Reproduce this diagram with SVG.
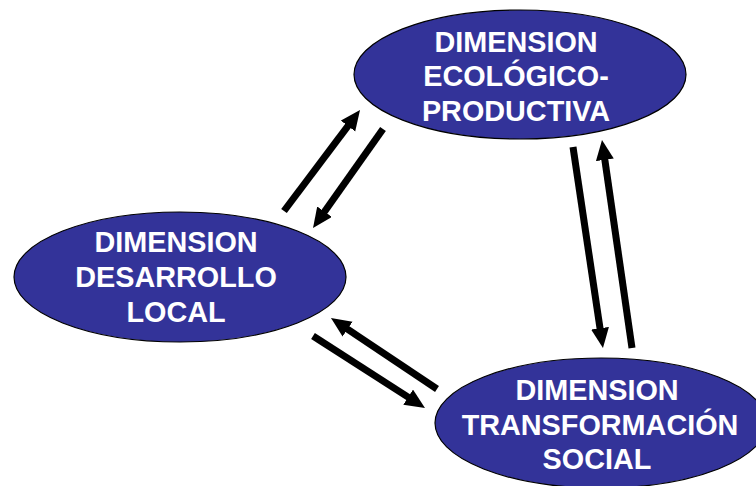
<svg xmlns="http://www.w3.org/2000/svg" width="756" height="486" viewBox="0 0 756 486">
<style>
.node ellipse{fill:#333399;stroke:#000;stroke-width:1.2}
.node text{fill:#fff;font-family:"Liberation Sans",Arial,sans-serif;font-weight:bold;font-size:28.8px;text-anchor:middle}
.conn line{stroke:#000;stroke-width:7;marker-end:url(#ah)}
</style>
<defs>
<marker id="ah" markerUnits="userSpaceOnUse" markerWidth="22" markerHeight="20" refX="6" refY="9" orient="auto">
<path d="M0,0 L20,9 L0,18 z" fill="#000"/>
</marker>
</defs>
<rect width="756" height="486" fill="#fff"/>
<g id="n-eco" class="node">
<ellipse cx="520" cy="74.5" rx="166" ry="64.5"/>
<text x="516" y="52">DIMENSION</text>
<text x="516" y="86">ECOLÓGICO-</text>
<text x="516" y="121">PRODUCTIVA</text>
</g>
<g id="n-local" class="node">
<ellipse cx="180" cy="277" rx="166" ry="65"/>
<text x="176" y="252">DIMENSION</text>
<text x="176" y="287">DESARROLLO</text>
<text x="176" y="322">LOCAL</text>
</g>
<g id="n-social" class="node">
<ellipse cx="601" cy="423" rx="166" ry="65"/>
<text x="597" y="400">DIMENSION</text>
<text x="600" y="435">TRANSFORMACIÓN</text>
<text x="597" y="469">SOCIAL</text>
</g>
<g id="connectors" class="conn">
<line x1="284" y1="211" x2="351.6" y2="121.2"/>
<line x1="383" y1="129" x2="321.1" y2="216.6"/>
<line x1="437" y1="389" x2="342.6" y2="325.8"/>
<line x1="313" y1="336" x2="413.2" y2="400.4"/>
<line x1="573" y1="147" x2="600.9" y2="334.2"/>
<line x1="632" y1="348" x2="604" y2="153.9"/>
</g>
</svg>
